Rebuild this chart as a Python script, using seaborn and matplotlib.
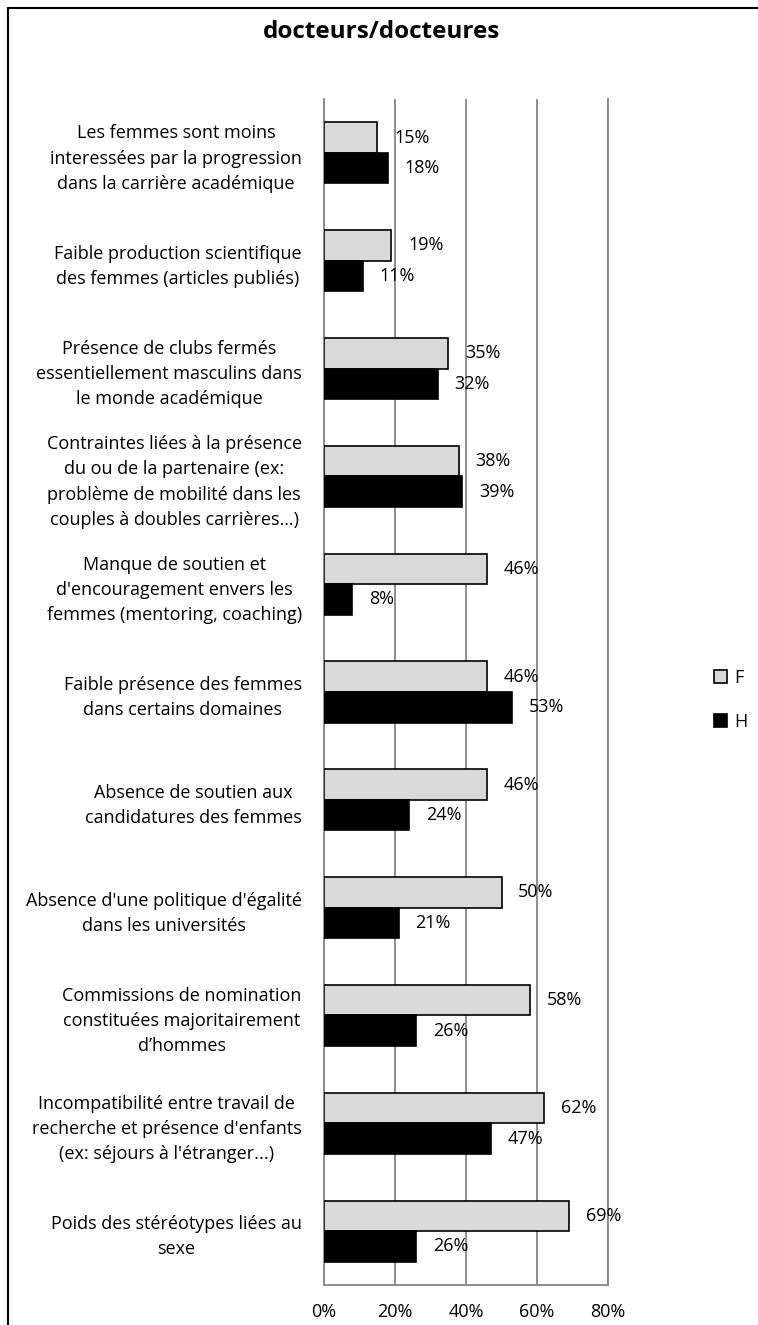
import matplotlib
matplotlib.use("Agg")
import matplotlib.pyplot as plt
import matplotlib.lines as mlines
import matplotlib.patches as mpatches
import seaborn as sns
import pandas as pd

categories = [
    "Les femmes sont moins\ninteressées par la progression\ndans la carrière académique",
    "Faible production scientifique\ndes femmes (articles publiés)",
    "Présence de clubs fermés\nessentiellement masculins dans\nle monde académique",
    "Contraintes liées à la présence\ndu ou de la partenaire (ex:\nproblème de mobilité dans les\ncouples à doubles carrières…)",
    "Manque de soutien et\nd'encouragement envers les\nfemmes (mentoring, coaching)",
    "Faible présence des femmes\ndans certains domaines",
    "Absence de soutien aux\ncandidatures des femmes",
    "Absence d'une politique d'égalité\ndans les universités",
    "Commissions de nomination\nconstituées majoritairement\nd’hommes",
    "Incompatibilité entre travail de\nrecherche et présence d'enfants\n(ex: séjours à l'étranger...)",
    "Poids des stéréotypes liées au\nsexe",
]
values_F = [15, 19, 35, 38, 46, 46, 46, 50, 58, 62, 69]
values_H = [18, 11, 32, 39, 8, 53, 24, 21, 26, 47, 26]
series = ["F", "H"]
x_ticks = [0, 20, 40, 60, 80]
x_tick_labels = ["0%", "20%", "40%", "60%", "80%"]
title = "docteurs/docteures"

df = pd.DataFrame({
    "cat": categories * 2,
    "val": values_F + values_H,
    "sexe": ["F"] * len(categories) + ["H"] * len(categories),
})

sns.set_theme(style="white")
plt.rcParams["font.family"] = ["Open Sans", "DejaVu Sans"]
plt.rcParams["text.color"] = "black"

FS = 13
W, H = 758, 1325
fig = plt.figure(figsize=(W / 100, H / 100), dpi=100)
ax = fig.add_axes([324 / W, 1 - 1285 / H, (608 - 324) / W, (1285 - 99) / H])

sns.barplot(
    data=df, y="cat", x="val", hue="sexe", orient="h", ax=ax,
    palette={"F": "#d9d9d9", "H": "#000000"}, hue_order=series,
    order=categories, width=0.566, edgecolor="black", linewidth=1.2,
    legend=False, zorder=3,
)

for cont, vals in zip(ax.containers, [values_F, values_H]):
    ax.bar_label(cont, labels=[f"{v}%" for v in vals], padding=12,
                 fontsize=FS, color="black", zorder=5)

ax.set_xlim(0, 80)
ax.set_xticks(x_ticks)
ax.set_xticklabels(x_tick_labels, fontsize=FS)
ax.set_xlabel("")
ax.set_ylabel("")
ax.tick_params(axis="x", length=0, pad=13, colors="black")
ax.tick_params(axis="y", length=0, pad=16, labelsize=FS, colors="black")
for t in ax.get_yticklabels():
    t.set_multialignment("center")
    t.set_linespacing(1.52)

ax.grid(axis="x", color="#868686", linewidth=1.3, zorder=0)
ax.grid(axis="y", visible=False)
ax.set_axisbelow(True)
for side in ["left", "bottom", "right"]:
    ax.spines[side].set_visible(True)
    ax.spines[side].set_color("#868686")
    ax.spines[side].set_linewidth(1.3)
ax.spines["top"].set_visible(False)

fig.text(382 / W, 1 - 32 / H, title, ha="center", va="center",
         fontsize=17.5, fontweight="bold")

handles = [
    mpatches.Patch(facecolor="#d9d9d9", edgecolor="black", linewidth=1.2, label="F"),
    mpatches.Patch(facecolor="#000000", edgecolor="black", linewidth=1.2, label="H"),
]
fig.legend(handles=handles, loc="center left",
           bbox_to_anchor=(698 / W, 1 - 700 / H), frameon=False,
           handlelength=0.7, handleheight=0.7, handletextpad=0.4,
           labelspacing=1.45, fontsize=FS)

# figure frame (left and top edges visible)
fig.add_artist(mlines.Line2D([8 / W, 8 / W], [0, 1 - 8 / H], color="black",
                             linewidth=1.5, transform=fig.transFigure))
fig.add_artist(mlines.Line2D([8 / W, 1], [1 - 8 / H, 1 - 8 / H], color="black",
                             linewidth=1.5, transform=fig.transFigure))

fig.savefig("out.png", dpi=100)
